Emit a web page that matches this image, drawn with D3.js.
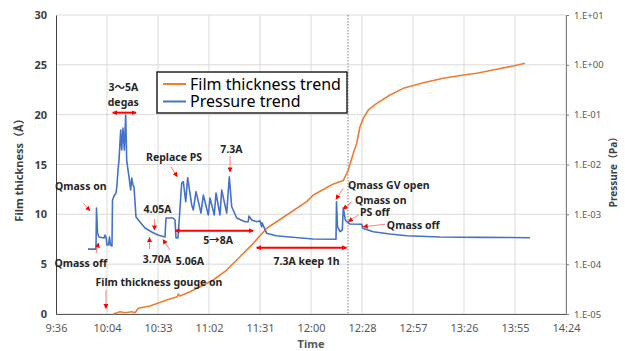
<!DOCTYPE html>
<html>
  <head>
    <meta charset="utf-8" />
    <script src="https://d3js.org/d3.v7.min.js"></script>
    <style>
      body { margin: 0; background: #fff; }
    </style>
  </head>
  <body>
    <svg id="chart" width="625" height="351"></svg>
    <script>
      // Film thickness trend (Å, left axis)
      const thickTime = ["10:08:22","10:12:08","10:14:58","10:18:45","10:20:37","10:22:29","10:29:05","10:38:31","10:44:30","10:45:04","10:46:01","10:51:40","10:57:19","11:04:50","11:12:24","11:19:55","11:27:25","11:34:59","11:46:17","11:57:34","12:01:18","12:12:35","12:18:14","12:21:04","12:23:53","12:25:49","12:27:40","12:29:32","12:32:22","12:37:06","12:44:37","12:52:07","13:03:25","13:14:43","13:26:01","13:33:34","13:44:52","13:54:14","14:00:51"];
      const thickValue = [0.0,0.23,0.13,0.23,0.13,0.57,0.8,1.4,1.74,2.01,1.81,2.24,2.74,3.41,4.41,5.75,7.09,8.6,9.93,11.27,11.94,13.04,13.39,14.45,16.12,17.13,18.79,19.63,20.47,21.14,21.97,22.64,23.21,23.65,23.98,24.15,24.55,24.88,25.15];

      // Pressure trend (Pa, right log axis)
      const pressTime = ["9:54:04","9:58:35","9:58:52","9:59:26","10:00:17","10:03:07","10:03:40","10:04:14","10:04:48","10:05:39","10:06:13","10:06:47","10:07:37","10:07:54","10:08:45","10:09:53","10:10:27","10:11:01","10:11:35","10:12:32","10:13:06","10:13:50","10:14:34","10:15:22","10:15:55","10:16:40","10:17:13","10:18:11","10:18:45","10:19:29","10:20:03","10:21:11","10:22:29","10:26:16","10:30:02","10:33:36","10:37:33","10:38:07","10:42:04","10:43:12","10:43:46","10:44:53","10:46:59","10:47:53","10:49:15","10:50:22","10:52:38","10:53:32","10:55:04","10:57:53","10:59:11","11:02:00","11:02:58","11:05:23","11:06:21","11:08:37","11:09:34","11:12:24","11:13:52","11:15:13","11:18:02","11:22:44","11:24:35","11:24:59","11:26:31","11:29:31","11:31:12","11:32:10","11:32:20","11:34:59","11:40:14","11:46:17","12:01:08","12:14:07","12:14:24","12:14:58","12:16:23","12:17:41","12:18:14","12:19:22","12:20:44","12:22:01","12:28:38","12:29:12","12:35:11","12:44:37","12:54:02","13:12:51","13:35:26","14:03:40"];
      const pressValue = [2.0e-4,2.0e-4,1.34e-3,4.22e-4,3.51e-4,3.35e-4,3.85e-4,3.51e-4,2.42e-4,2.42e-4,3.51e-4,2.42e-4,2.31e-4,1.94e-3,2.33e-3,2.68e-3,3.88e-3,7.76e-3,1.23e-2,4.93e-2,1.96e-2,5.4e-2,1.96e-2,9.85e-2,1.23e-2,7.76e-3,5.62e-3,3.08e-3,5.36e-3,3.88e-3,3.54e-3,8.84e-4,7.7e-4,5.32e-4,4.42e-4,3.85e-4,3.51e-4,8.44e-4,8.44e-4,7.7e-4,3.35e-4,3.35e-4,4.25e-3,4.52e-3,1.79e-3,5.44e-3,1.54e-3,1.22e-3,2.85e-3,1.06e-3,2.44e-3,9.7e-4,2.13e-3,9.7e-4,2.68e-3,9.7e-4,3.08e-3,1.06e-3,5.69e-3,1.42e-3,8.44e-4,7.12e-4,7.12e-4,9.26e-4,7.7e-4,7.12e-4,7.4e-4,5.65e-4,6.8e-4,4.16e-4,3.73e-4,3.56e-4,3.2e-4,3.16e-4,1.79e-3,5.65e-4,4.48e-4,4.85e-4,1.36e-3,7.7e-4,6.92e-4,6.4e-4,6.31e-4,5.25e-4,4.48e-4,4.03e-4,3.73e-4,3.51e-4,3.45e-4,3.4e-4];

      // axes
      const timeStart = "9:36:00";
      const timeStepMin = 28.8;
      const timeTickLabels = ["9:36","10:04","10:33","11:02","11:31","12:00","12:28","12:57","13:26","13:55","14:24"];
      const thickTicks = [0, 5, 10, 15, 20, 25, 30];
      const pressTicks = [1e-5, 1e-4, 1e-3, 1e-2, 1e-1, 1, 10];
      const pressTickLabels = ["1.E-05","1.E-04","1.E-03","1.E-02","1.E-01","1.E+00","1.E+01"];
      const markerTime = "12:20:54";

      // annotations (time, thickness-axis value)
      const noteText = ["3～5A","degas","Replace PS","7.3A","Qmass on","Qmass off","4.05A","3.70A","5.06A","5→8A","7.3A keep 1h","Film thickness gouge on","Qmass GV open","Qmass on","PS off","Qmass off"];
      const noteTime = ["10:14:00","10:14:00","10:42:38","11:15:00","9:50:00","9:50:00","10:33:20","10:33:00","10:51:40","11:07:30","11:57:30","10:34:10","12:20:54","12:24:50","12:27:40","12:42:50"];
      const noteValue = [22.7,21.2,15.75,16.55,12.77,5.12,10.48,5.47,5.27,7.42,5.32,3.16,12.94,11.44,10.16,8.93];
      const noteAnchor = ["middle","middle","middle","middle","middle","middle","middle","middle","middle","middle","middle","middle","start","start","start","start"];

      const arrowFromTime = ["10:40:48","11:14:18","9:51:24","9:58:36","10:31:36","10:28:48","10:40:24","10:04:12","12:18:12","12:23:00","12:26:42","12:41:48"];
      const arrowFromValue = [14.78,15.85,11.1,6.12,9.53,6.52,6.42,2.41,12.61,11.27,9.93,9.0];
      const arrowToTime = ["10:44:30","11:14:18","9:55:12","10:00:00","10:31:36","10:28:48","10:36:24","10:04:12","12:14:06","12:18:12","12:21:06","12:29:30"];
      const arrowToValue = [13.78,14.25,10.36,7.12,8.43,7.68,7.47,0.55,11.51,10.5,9.26,8.76];

      const rangeStart = ["10:08:00","10:43:12","11:29:18"];
      const rangeEnd = ["10:21:12","11:27:24","12:20:06"];
      const rangeValue = [20.2, 8.36, 6.65];

      const width = 625, height = 351;
      const margin = { top: 15, right: 59, bottom: 37, left: 56 };
      const svg = d3.select("#chart");
      const parseTime = d3.timeParse("%H:%M:%S");
      const t0 = parseTime(timeStart);
      const timeTicks = timeTickLabels.map((_, i) => new Date(+t0 + i * timeStepMin * 60000));

      const x = d3.scaleTime()
        .domain([t0, timeTicks[timeTicks.length - 1]])
        .range([margin.left, width - margin.right]);
      const yL = d3.scaleLinear().domain([0, 30]).range([height - margin.bottom, margin.top]);
      const yR = d3.scaleLog().domain([1e-5, 10]).range([height - margin.bottom, margin.top]);

      const font = "'Noto Sans', 'Noto Sans CJK JP', sans-serif";

      // grid
      svg.append("g").selectAll("line").data(thickTicks).join("line")
        .attr("x1", margin.left).attr("x2", width - margin.right)
        .attr("y1", d => yL(d)).attr("y2", d => yL(d))
        .attr("stroke", "#d9d9d9").attr("stroke-width", 1);
      svg.append("g").selectAll("line").data(timeTicks.slice(1)).join("line")
        .attr("x1", d => x(d)).attr("x2", d => x(d))
        .attr("y1", margin.top).attr("y2", height - margin.bottom)
        .attr("stroke", "#d9d9d9").attr("stroke-width", 1);

      // dotted marker line
      svg.append("line")
        .attr("x1", x(parseTime(markerTime))).attr("x2", x(parseTime(markerTime)))
        .attr("y1", margin.top).attr("y2", height - margin.bottom)
        .attr("stroke", "#7f7f7f").attr("stroke-width", 1)
        .attr("stroke-dasharray", "1.5,1.5");

      // axes
      const xAxis = d3.axisBottom(x).tickValues(timeTicks).tickSize(0).tickPadding(10)
        .tickFormat((d, i) => timeTickLabels[i]);
      const gx = svg.append("g").attr("transform", `translate(0,${height - margin.bottom})`).call(xAxis);
      gx.select(".domain").attr("stroke", "#595959");
      gx.selectAll("text").attr("font-family", font).attr("font-size", 11).attr("fill", "#595959");

      const yAxisL = d3.axisLeft(yL).tickValues(thickTicks).tickSize(0).tickPadding(9);
      const gl = svg.append("g").attr("transform", `translate(${margin.left},0)`).call(yAxisL);
      gl.select(".domain").attr("stroke", "#404040");
      gl.selectAll("text").attr("font-family", font).attr("font-size", 11)
        .attr("font-weight", "bold").attr("fill", "#404040");

      const yAxisR = d3.axisRight(yR).tickValues(pressTicks).tickSize(3).tickPadding(5)
        .tickFormat((d, i) => pressTickLabels[i]);
      const gr = svg.append("g").attr("transform", `translate(${width - margin.right},0)`).call(yAxisR);
      gr.select(".domain").attr("stroke", "#7f7f7f");
      gr.selectAll(".tick line").attr("stroke", "#7f7f7f");
      gr.selectAll("text").attr("font-family", font).attr("font-size", 9.5).attr("fill", "#595959");

      // axis titles
      svg.append("text")
        .attr("transform", `translate(19,${(margin.top + height - margin.bottom) / 2 + 3}) rotate(-90)`)
        .attr("text-anchor", "middle").attr("dy", "0.35em")
        .attr("font-family", font).attr("font-size", 11).attr("font-weight", "bold").attr("fill", "#404040")
        .text("Film thickness（Å）");
      svg.append("text")
        .attr("transform", `translate(613,${(margin.top + height - margin.bottom) / 2 + 5}) rotate(-90)`)
        .attr("text-anchor", "middle").attr("dy", "0.35em")
        .attr("font-family", font).attr("font-size", 10).attr("font-weight", "bold").attr("fill", "#404040")
        .text("Pressure（Pa）");
      svg.append("text")
        .attr("x", (margin.left + width - margin.right) / 2).attr("y", 344).attr("dy", "0.35em")
        .attr("text-anchor", "middle")
        .attr("font-family", font).attr("font-size", 11).attr("font-weight", "bold").attr("fill", "#595959")
        .text("Time");

      // series
      const thickData = thickTime.map((t, i) => [parseTime(t), thickValue[i]]);
      const pressData = pressTime.map((t, i) => [parseTime(t), pressValue[i]]);

      svg.append("path").datum(thickData)
        .attr("fill", "none").attr("stroke", "#ED7D31").attr("stroke-width", 1.6)
        .attr("stroke-linejoin", "round")
        .attr("d", d3.line().x(d => x(d[0])).y(d => yL(d[1])));
      svg.append("path").datum(pressData)
        .attr("fill", "none").attr("stroke", "#4472C4").attr("stroke-width", 1.6)
        .attr("stroke-linejoin", "round")
        .attr("d", d3.line().x(d => x(d[0])).y(d => yR(d[1])));

      // arrow heads
      const defs = svg.append("defs");
      defs.append("marker").attr("id", "head")
        .attr("viewBox", "0 0 10 10").attr("refX", 9).attr("refY", 5)
        .attr("markerWidth", 5).attr("markerHeight", 5).attr("markerUnits", "userSpaceOnUse")
        .attr("orient", "auto-start-reverse")
        .append("path").attr("d", "M0,0L10,5L0,10Z").attr("fill", "#FF0000");

      svg.append("g").selectAll("line").data(arrowFromTime).join("line")
        .attr("x1", (d, i) => x(parseTime(d))).attr("y1", (d, i) => yL(arrowFromValue[i]))
        .attr("x2", (d, i) => x(parseTime(arrowToTime[i]))).attr("y2", (d, i) => yL(arrowToValue[i]))
        .attr("stroke", "#FF7F7F").attr("stroke-width", 1)
        .attr("marker-end", "url(#head)");

      svg.append("g").selectAll("line").data(rangeStart).join("line")
        .attr("x1", d => x(parseTime(d))).attr("x2", (d, i) => x(parseTime(rangeEnd[i])))
        .attr("y1", (d, i) => yL(rangeValue[i])).attr("y2", (d, i) => yL(rangeValue[i]))
        .attr("stroke", "#FF0000").attr("stroke-width", 2)
        .attr("marker-start", "url(#head)").attr("marker-end", "url(#head)");

      // annotation text
      svg.append("g").selectAll("text").data(noteText).join("text")
        .attr("x", (d, i) => x(parseTime(noteTime[i])))
        .attr("y", (d, i) => yL(noteValue[i]))
        .attr("dy", "0.35em")
        .attr("text-anchor", (d, i) => noteAnchor[i])
        .attr("font-family", font).attr("font-size", 10.5).attr("font-weight", "bold").attr("fill", "#262626")
        .text(d => d);

      // legend
      const legend = svg.append("g").attr("transform", "translate(157,72)");
      legend.append("rect").attr("width", 190).attr("height", 41)
        .attr("fill", "#fff").attr("stroke", "#262626").attr("stroke-width", 1.5);
      const legendItems = [["Film thickness trend", "#ED7D31"], ["Pressure trend", "#4472C4"]];
      legendItems.forEach(([label, color], i) => {
        legend.append("line").attr("x1", 6).attr("x2", 29)
          .attr("y1", 12 + i * 17.5).attr("y2", 12 + i * 17.5)
          .attr("stroke", color).attr("stroke-width", 2);
        legend.append("text").attr("x", 33).attr("y", 12 + i * 17.5).attr("dy", "0.35em")
          .attr("font-family", font).attr("font-size", 16).attr("fill", "#000")
          .text(label);
      });
    </script>
  </body>
</html>
